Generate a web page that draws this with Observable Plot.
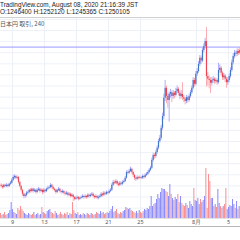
<!DOCTYPE html>
<html><head><meta charset="utf-8">
<script src="https://cdn.jsdelivr.net/npm/d3@7"></script>
<script src="https://cdn.jsdelivr.net/npm/@observablehq/plot@0.6"></script>
<style>
body{margin:0;background:#fff;}
#wrap{position:relative;width:240px;height:240px;overflow:hidden;font-family:"Liberation Sans",Arial,sans-serif;}
#wrap svg{position:absolute;left:0;top:0;}
.t{position:absolute;white-space:nowrap;line-height:1;}
.ln{position:absolute;left:0;width:240px;height:1px;}
</style></head><body><div id="wrap"></div>
<script>
// 4-hour candles, JST wall clock stored as UTC, first candle 2020-07-07 12:00
const startTime = Date.UTC(2020, 6, 7, 12);
// prices in thousand JPY
const opens = [1001,999,997,1001,999,1001,999,1003,1005,1010,1015,1017,1014,1015,1006,999,992,985,981,983,987,988,992,990,994,990,992,988,992,994,990,992,988,992,990,994,996,997,1001,997,994,992,988,992,994,990,988,990,987,985,987,983,985,981,983,979,976,978,979,976,978,979,981,979,981,979,983,981,983,985,981,979,981,978,979,981,985,983,987,985,988,987,990,992,1001,1006,1005,1008,1003,1001,1005,1003,1006,1008,1014,1024,1023,1026,1030,1024,1019,1014,1012,1015,1014,1015,1014,1017,1015,1019,1021,1024,1028,1032,1046,1055,1053,1060,1068,1080,1086,1104,1125,1158,1176,1161,1154,1165,1168,1161,1167,1163,1170,1174,1167,1161,1165,1159,1156,1152,1159,1154,1161,1168,1176,1190,1183,1201,1206,1219,1230,1225,1244,1251,1260,1197,1192,1190,1185,1190,1192,1188,1190,1186,1208,1212,1203,1195,1198,1192,1186,1190,1197,1208,1222,1233,1239,1237,1242,1239];
const highs = [1004,1002,1003,1003,1004,1003,1005,1008,1013,1019,1020,1019,1018,1017,1008,1001,994,987,986,990,991,994,995,996,996,995,994,995,997,996,995,994,995,994,996,999,1000,1004,1003,999,996,994,994,997,996,992,993,992,989,990,989,988,987,986,985,981,981,982,981,980,982,984,983,984,983,986,985,986,988,987,983,984,983,982,984,988,987,990,989,991,990,993,995,1004,1010,1009,1011,1010,1006,1008,1007,1009,1011,1017,1027,1028,1030,1034,1032,1026,1021,1016,1018,1017,1018,1017,1020,1019,1022,1024,1027,1031,1035,1050,1059,1058,1064,1072,1084,1091,1109,1131,1165,1190,1180,1166,1169,1174,1171,1172,1170,1176,1180,1177,1170,1172,1186,1163,1159,1163,1162,1165,1172,1180,1195,1194,1206,1211,1224,1235,1234,1248,1256,1266,1285,1204,1198,1195,1195,1197,1195,1194,1193,1221,1218,1215,1206,1203,1201,1196,1195,1202,1213,1227,1238,1244,1243,1247,1246,1249];
const lows = [996,994,995,997,997,996,997,1001,1003,1008,1012,1011,1011,1003,996,989,981,977,978,980,984,986,987,988,987,988,985,986,990,987,988,984,986,987,988,992,994,995,994,991,989,985,986,990,987,985,986,984,982,983,980,981,978,979,972,973,974,975,973,974,976,977,976,977,976,977,978,979,981,978,976,977,975,975,977,979,980,981,982,983,984,985,988,990,999,1002,1003,1000,998,999,1000,1001,1004,1006,1012,1020,1021,1024,1021,1015,1010,1008,1010,1011,1012,1011,1012,1012,1013,1017,1019,1022,1026,1030,1043,1048,1050,1057,1065,1077,1083,1100,1120,1152,1148,1140,1115,1158,1150,1156,1157,1160,1166,1162,1155,1157,1154,1150,1146,1148,1149,1151,1158,1165,1173,1178,1180,1197,1203,1215,1219,1222,1240,1247,1178,1180,1175,1167,1180,1185,1183,1184,1181,1183,1203,1198,1190,1190,1186,1176,1181,1186,1194,1205,1218,1229,1232,1233,1235,1236];
const closes = [999,997,1001,999,1001,999,1003,1005,1010,1015,1017,1014,1015,1006,999,992,985,981,983,987,988,992,990,994,990,992,988,992,994,990,992,988,992,990,994,996,997,1001,997,994,992,988,992,994,990,988,990,987,985,987,983,985,981,983,979,976,978,979,976,978,979,981,979,981,979,983,981,983,985,981,979,981,978,979,981,985,983,987,985,988,987,990,992,1001,1006,1005,1008,1003,1001,1005,1003,1006,1008,1014,1024,1023,1026,1030,1024,1019,1014,1012,1015,1014,1015,1014,1017,1015,1019,1021,1024,1028,1032,1046,1055,1053,1060,1068,1080,1086,1104,1125,1158,1176,1161,1154,1165,1168,1161,1167,1163,1170,1174,1167,1161,1165,1159,1156,1152,1159,1154,1161,1168,1176,1190,1183,1201,1206,1219,1230,1225,1244,1251,1260,1197,1192,1190,1185,1190,1192,1188,1190,1186,1208,1212,1203,1195,1198,1192,1186,1190,1197,1208,1222,1233,1239,1237,1242,1239,1244];
const volumes = [50,30,40,60,30,40,50,80,160,90,60,50,40,100,80,120,90,70,50,40,30,50,40,30,40,60,30,40,50,30,40,110,60,50,40,70,80,90,60,50,40,70,50,30,40,60,40,30,50,40,60,30,50,40,160,80,50,40,60,30,40,30,50,40,30,50,40,30,50,40,30,40,60,50,40,70,50,60,40,50,60,50,70,90,120,60,70,90,50,40,60,50,70,80,110,100,90,100,80,70,60,50,70,50,80,60,50,70,90,80,100,90,120,220,120,140,150,190,240,200,260,300,290,290,270,260,220,340,240,200,180,210,190,240,160,220,150,130,120,150,130,100,170,140,120,300,180,170,200,140,190,160,180,220,500,100,440,370,200,200,120,140,110,290,150,120,100,120,140,300,90,110,130,120,190,140,100,170,90,120];
const tickDates = [Date.UTC(2020,6,9),Date.UTC(2020,6,13),Date.UTC(2020,6,17),Date.UTC(2020,6,21),Date.UTC(2020,6,25),Date.UTC(2020,7,1),Date.UTC(2020,7,5)];
const tickLabels = ["9","13","17","21","25","8月","5"];
const priceGrid = [960,980,1000,1020,1040,1060,1080,1100,1120,1140,1160,1180,1200,1220,1240,1260,1280,1300];
const lastClose = 1250.105;
const header1 = "TradingView.com, August 08, 2020 21:16:39 JST";
const header2 = "O:1246400 H:1252120 L:1245365 C:1250105";
const header3 = "日本円 取引, 240";

const H4 = 4*3600*1000;
const candles = closes.map((c,i)=>({
  t0:new Date(startTime+i*H4), t1:new Date(startTime+(i+1)*H4), mid:new Date(startTime+i*H4+H4/2),
  open:opens[i], high:highs[i], low:lows[i], close:c, vol:volumes[i], up:c>=opens[i]
}));
const xDomain=[new Date(startTime), new Date(startTime+30*24*3600*1000)];
const tickDateObjs = tickDates.map(d=>new Date(d));
const labelMap = new Map(tickDates.map((d,i)=>[d,tickLabels[i]]));
const base = {width:240,height:240,marginTop:17,marginBottom:22,marginLeft:0,marginRight:0,
  style:{background:"transparent",overflow:"visible"}};
const yPrice = {domain:[941.3,1303.4],axis:null};
const xScale = {type:"utc",domain:xDomain,axis:null};

const gridChart = Plot.plot({...base, x:xScale, y:yPrice, marks:[
  Plot.ruleY(priceGrid,{stroke:"#edf1f7",strokeWidth:1}),
  Plot.ruleX(tickDateObjs,{stroke:"#edf1f7",strokeWidth:1}),
]});
const volChart = Plot.plot({...base, x:xScale, y:{domain:[0,2010],axis:null}, marks:[
  Plot.rectY(candles,{x1:"t0",x2:"t1",y:"vol",insetRight:0.3,fill:d=>d.up?"#8e8efb":"#f99292"}),
]});
const priceChart = Plot.plot({...base, x:{type:"utc",domain:xDomain,label:null}, y:yPrice, marks:[
  Plot.ruleY([lastClose],{stroke:"#9898ff",strokeWidth:1}),
  Plot.ruleX(candles,{x:"mid",y1:"low",y2:"high",stroke:d=>d.up?"#a6a6ff":"#f9a4ab",strokeWidth:0.9}),
  Plot.ruleX(candles,{x:"mid",y1:"open",y2:"close",stroke:d=>d.up?"#3f76c8":"#ef4352",strokeWidth:1.2}),
  Plot.axisX(tickDateObjs,{tickSize:0,tickPadding:1.5,fontSize:5.5,fill:"#555",label:null,
    tickFormat:d=>labelMap.get(+d)}),
]});
const wrap=document.getElementById("wrap");
wrap.append(gridChart, volChart, priceChart);
function addLine(y,color){const d=document.createElement("div");d.className="ln";d.style.top=y+"px";d.style.background=color;wrap.append(d);}
addLine(16.5,"#d0d0d0");
addLine(217.5,"#e2e2e2");
addLine(225.5,"#b8b8b8");
function addText(txt,x,top,size,color,font){const d=document.createElement("div");d.className="t";d.textContent=txt;
  d.style.left=x+"px";d.style.top=top+"px";d.style.fontSize=size+"px";d.style.color=color;if(font)d.style.fontFamily=font;wrap.append(d);}
addText(header1,0,1.9,6.4,"#222");
addText(header2,0,8.6,6.4,"#222");
addText(header3,0,20.5,6,"#555",'"Noto Sans CJK JP","Liberation Sans",sans-serif');
</script></body></html>
